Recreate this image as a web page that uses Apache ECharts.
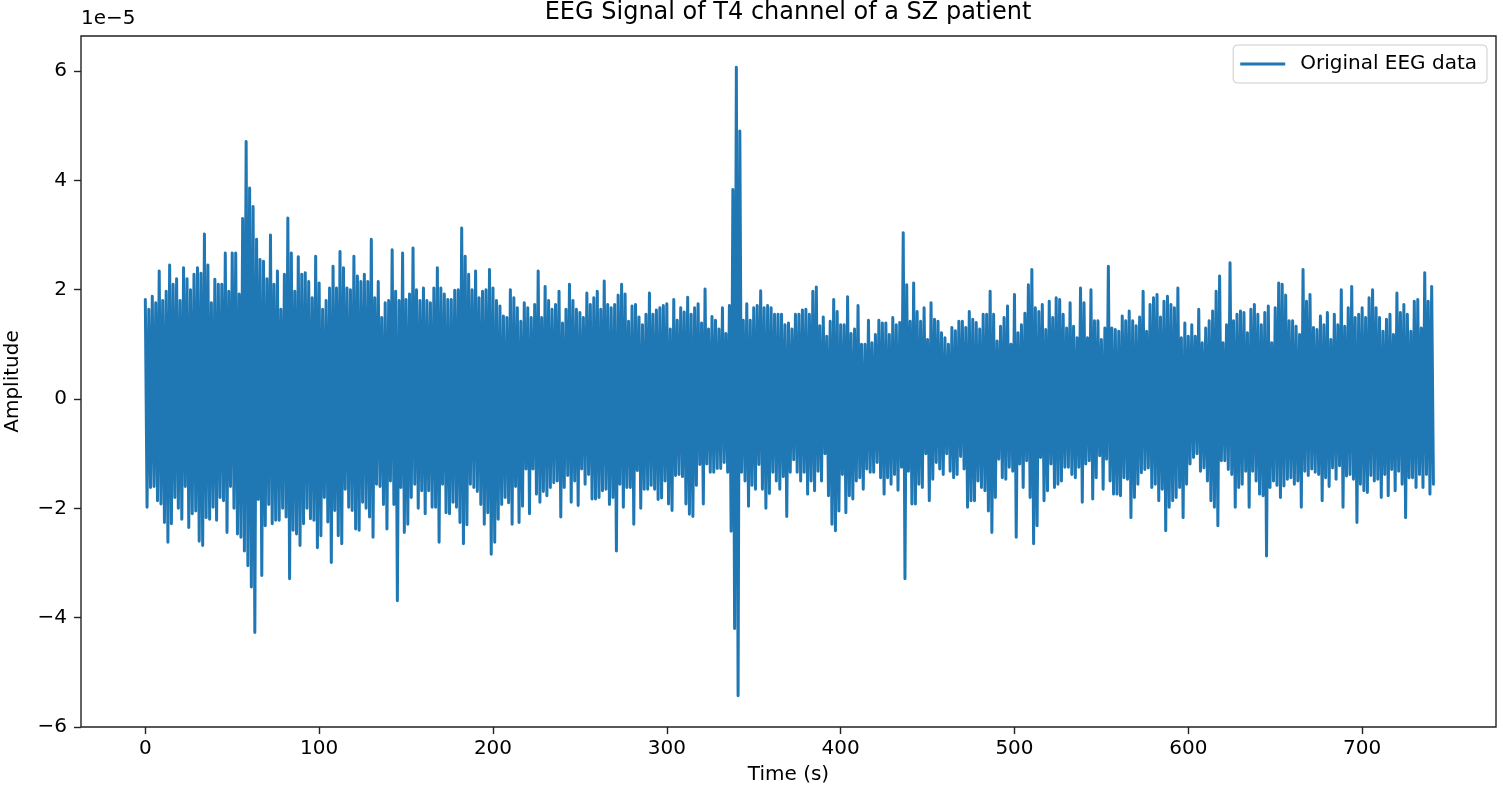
<!DOCTYPE html>
<html>
<head>
<meta charset="utf-8">
<script src="https://cdn.jsdelivr.net/npm/echarts@6.0.0/dist/echarts.min.js"></script>
<style>html,body{margin:0;padding:0;background:#fff}#c{width:1503px;height:794px}</style>
</head>
<body>
<div id="c"></div>
<script>
// Amplitudes in units of 1e-5 (local maxima / minima read every 2 s)
const timeStep = 2;
const upperPeaks = [
1.82,1.64,1.88,1.76,2.34,1.8,1.97,2.45,2.1,2.2,
1.8,2.4,2.2,2.0,2.28,2.4,2.3,3.02,2.45,1.76,
2.19,2.1,2.1,2.67,1.97,2.67,2.67,1.92,3.3,4.71,
3.86,3.52,2.92,2.55,2.52,2.2,3.0,2.1,2.34,1.64,
2.28,3.31,2.67,1.97,2.6,2.28,2.31,2.15,1.85,2.61,
2.12,1.64,1.8,2.03,2.43,2.03,2.7,2.4,2.03,2.0,
2.61,2.25,2.15,2.28,2.15,2.92,1.85,2.15,1.49,1.76,
1.8,2.73,1.97,1.8,2.67,1.82,1.92,2.76,2.0,1.8,
2.03,1.8,1.76,2.03,2.4,2.03,1.92,1.82,1.82,1.99,
2.0,3.13,2.61,2.28,2.0,2.34,1.85,1.97,2.0,2.37,
2.03,1.8,1.7,1.52,1.49,2.0,1.85,1.67,1.42,1.76,
1.67,1.49,1.73,2.34,1.49,2.06,1.8,1.64,1.73,1.97,
1.39,1.64,2.1,1.8,1.64,1.58,1.49,1.94,1.73,1.85,
1.97,1.64,2.16,1.73,1.67,1.73,1.9,2.1,1.92,1.42,
1.7,1.73,1.5,1.36,1.55,1.94,1.55,1.63,1.67,1.71,
1.74,1.28,1.82,1.44,1.67,1.59,1.86,1.55,1.67,1.74,
1.39,2.01,1.28,1.51,1.44,1.28,1.67,1.2,1.71,3.83,
6.07,4.9,1.44,1.74,1.44,1.67,1.71,1.98,1.67,1.71,
1.67,1.55,1.55,1.55,1.36,1.39,1.28,1.55,1.55,1.63,
1.64,1.55,1.97,2.05,1.34,1.5,1.15,1.42,1.82,1.6,
1.36,1.36,1.87,1.2,1.28,1.71,1.0,1.0,1.44,1.03,
1.18,1.44,1.39,1.39,1.18,1.49,1.36,1.4,3.04,2.09,
1.42,2.12,1.6,1.42,1.67,1.09,1.76,1.46,1.42,1.21,
1.12,1.0,1.31,1.25,1.42,1.42,1.31,1.6,1.46,1.4,
1.28,1.55,1.55,1.97,1.55,1.06,1.33,1.49,1.7,1.0,
1.91,1.21,1.36,1.57,2.09,2.37,1.67,1.6,1.73,1.27,
1.79,1.49,1.85,1.82,1.55,1.3,1.76,1.33,1.12,2.03,
1.76,1.12,2.0,1.43,1.43,1.09,1.3,2.43,1.3,1.27,
1.24,1.52,1.43,1.61,1.43,1.34,1.5,1.97,1.24,1.73,
1.85,1.91,1.5,1.79,1.88,1.73,1.67,2.03,1.12,1.39,
1.15,1.36,1.15,1.64,1.03,1.3,1.43,1.61,1.97,2.25,
1.03,1.36,2.49,1.43,1.55,1.61,1.58,1.21,1.64,1.73,
1.55,1.36,1.58,1.7,1.03,1.67,2.12,2.1,1.9,1.43,
1.43,1.33,1.18,2.37,1.79,1.91,1.31,1.27,1.52,1.36,
1.58,1.09,1.55,1.36,2.0,1.33,1.67,2.06,1.49,1.55,
1.67,1.49,1.85,2.0,1.67,1.49,1.24,1.46,1.55,1.18,
1.94,1.58,1.73,1.55,1.24,1.79,1.82,1.3,2.31,1.79,
2.06
];
const lowerPeaks = [
-1.98,-1.62,-1.6,-1.86,-1.92,-2.26,-2.62,-2.28,-1.8,-2.0,
-2.2,-1.6,-2.35,-2.1,-2.05,-2.6,-2.68,-2.17,-2.2,-1.98,
-2.22,-1.8,-1.86,-2.44,-1.6,-2.0,-2.47,-2.53,-2.78,-3.05,
-3.44,-4.27,-1.84,-3.23,-2.32,-1.93,-2.28,-2.22,-2.22,-2.0,
-2.16,-3.29,-2.4,-2.47,-2.68,-2.28,-2.0,-2.19,-2.22,-2.72,
-2.5,-1.8,-2.25,-2.99,-2.04,-2.5,-2.65,-1.65,-1.98,-2.04,
-2.38,-2.4,-1.89,-2.0,-2.16,-2.53,-1.56,-1.6,-1.93,-2.38,
-1.5,-1.93,-3.69,-1.62,-2.44,-2.29,-1.8,-1.56,-2.0,-1.68,
-2.1,-1.68,-1.98,-1.98,-2.62,-1.56,-2.08,-2.1,-1.89,-1.98,
-2.26,-2.65,-2.3,-1.56,-1.62,-1.69,-1.93,-2.29,-2.08,-2.84,
-2.62,-2.2,-1.93,-1.8,-1.9,-2.29,-1.6,-2.26,-1.96,-1.28,
-2.1,-1.28,-1.74,-1.89,-1.69,-1.77,-1.62,-1.53,-1.5,-2.16,
-1.62,-1.4,-1.89,-1.5,-1.95,-1.28,-1.56,-1.38,-1.83,-1.83,
-1.8,-1.68,-1.65,-1.93,-1.8,-2.78,-1.56,-1.98,-1.62,-1.62,
-2.29,-1.31,-2.0,-1.65,-1.65,-1.58,-1.65,-1.84,-1.81,-1.5,
-1.92,-2.04,-1.4,-1.38,-1.42,-1.92,-2.11,-2.15,-1.58,-1.2,
-1.92,-1.19,-1.34,-1.34,-1.27,-1.27,-1.16,-1.34,-2.42,-4.2,
-5.43,-1.34,-1.5,-1.96,-1.58,-1.65,-1.2,-1.65,-2.0,-1.73,
-1.34,-1.5,-1.65,-1.42,-2.15,-1.34,-1.11,-1.34,-1.5,-1.34,
-1.74,-1.5,-1.68,-1.32,-1.5,-1.0,-1.77,-2.29,-2.41,-2.05,
-1.38,-2.08,-1.77,-1.83,-1.5,-1.44,-1.65,-1.28,-1.34,-1.34,
-1.16,-1.44,-1.74,-1.44,-1.56,-1.38,-1.67,-1.25,-3.29,-1.32,
-1.92,-1.92,-1.56,-1.62,-1.0,-1.86,-1.47,-1.16,-1.28,-1.38,
-1.0,-1.32,-1.44,-1.38,-1.05,-1.28,-1.98,-1.86,-1.86,-1.5,
-1.62,-1.68,-2.05,-2.44,-1.8,-1.1,-1.44,-1.47,-1.25,-1.32,
-2.53,-1.19,-1.62,-1.13,-1.8,-2.65,-2.32,-1.07,-1.86,-1.68,
-1.19,-1.62,-1.56,-1.5,-1.25,-1.25,-1.38,-1.44,-1.25,-1.89,
-1.19,-1.13,-1.83,-1.44,-1.04,-1.65,-1.1,-1.5,-1.74,-1.74,
-1.77,-1.44,-1.47,-2.17,-1.8,-1.56,-1.35,-1.29,-1.26,-1.62,
-1.56,-1.86,-1.65,-2.41,-1.98,-1.86,-1.8,-1.62,-2.17,-1.56,
-1.19,-1.07,-1.0,-1.32,-1.26,-1.5,-1.86,-1.98,-2.32,-1.13,
-1.13,-1.29,-1.38,-1.98,-1.62,-1.56,-1.32,-1.98,-1.32,-1.5,
-1.74,-1.77,-2.87,-1.62,-1.5,-1.58,-1.8,-1.59,-1.47,-1.44,
-1.56,-1.5,-1.98,-1.32,-1.4,-1.28,-1.34,-1.38,-1.86,-1.44,
-1.6,-1.26,-1.47,-1.22,-1.98,-1.41,-1.38,-1.47,-2.26,-1.56,
-1.68,-1.71,-1.4,-1.5,-1.47,-1.8,-1.38,-1.77,-1.29,-1.68,
-1.32,-1.56,-2.17,-1.44,-1.44,-1.62,-1.38,-1.62,-1.38,-1.74,
-1.56
];
const xTicks = [0, 100, 200, 300, 400, 500, 600, 700];
const yTicks = [-6, -4, -2, 0, 2, 4, 6];
const seriesName = 'Original EEG data';
const titleText = 'EEG Signal of T4 channel of a SZ patient';
const offsetText = '1e\u22125';

const signal = [];
for (let i = 0; i < upperPeaks.length; i++) {
  signal.push([i * timeStep, upperPeaks[i]]);
  signal.push([i * timeStep + timeStep / 2, lowerPeaks[i]]);
}

const FONT = 'DejaVu Sans';
const minus = v => String(v).replace('-', '\u2212');

const chart = echarts.init(document.getElementById('c'), null, {renderer: 'canvas'});
chart.setOption({
  animation: false,
  backgroundColor: '#ffffff',
  title: {
    text: titleText, left: 788, textAlign: 'center', top: 1, padding: 0,
    textStyle: {fontFamily: FONT, fontSize: 24, fontWeight: 'normal', color: '#000'}
  },
  graphic: [{
    type: 'text', left: 81, top: 9, silent: true,
    style: {text: offsetText, font: '20px "DejaVu Sans"', fill: '#000'}
  }],
  legend: {
    data: [seriesName], right: 16, top: 45, icon: 'rect', itemWidth: 45, itemHeight: 3,
    padding: [9, 10, 9, 7], borderColor: '#cccccc', borderWidth: 1, borderRadius: 4,
    backgroundColor: 'rgba(255,255,255,0.8)', selectedMode: false,
    textStyle: {fontFamily: FONT, fontSize: 20, color: '#000', padding: [0, 0, 0, 10]}
  },
  grid: {left: 81, right: 7, top: 36, bottom: 67, show: true, borderColor: '#222', borderWidth: 1.4,
         backgroundColor: 'transparent', containLabel: false, outerBoundsMode: 'none'},
  xAxis: {
    type: 'value', min: -37, max: 777, position: 'bottom',
    axisLine: {show: false, onZero: false},
    splitLine: {show: false},
    axisTick: {show: true, inside: false, length: 7, lineStyle: {color: '#222', width: 1.4}, customValues: xTicks},
    axisLabel: {customValues: xTicks, margin: 12, fontFamily: FONT, fontSize: 20, color: '#000'},
    name: 'Time (s)', nameLocation: 'middle', nameGap: 38,
    nameTextStyle: {fontFamily: FONT, fontSize: 20, color: '#000'}
  },
  yAxis: {
    type: 'value', min: -6, max: 6.64, position: 'left',
    axisLine: {show: false, onZero: false},
    splitLine: {show: false},
    axisTick: {show: true, inside: false, length: 7, lineStyle: {color: '#222', width: 1.4}, customValues: yTicks},
    axisLabel: {customValues: yTicks, margin: 14, fontFamily: FONT, fontSize: 20, color: '#000', formatter: minus},
    name: 'Amplitude', nameLocation: 'middle', nameGap: 58, nameRotate: 90,
    nameTextStyle: {fontFamily: FONT, fontSize: 20, color: '#000'}
  },
  series: [{
    name: seriesName, type: 'line', data: signal,
    showSymbol: false, symbol: 'none', silent: true,
    lineStyle: {color: '#1f77b4', width: 3, join: 'round', cap: 'round'},
    itemStyle: {color: '#1f77b4'}
  }]
});
</script>
</body>
</html>
